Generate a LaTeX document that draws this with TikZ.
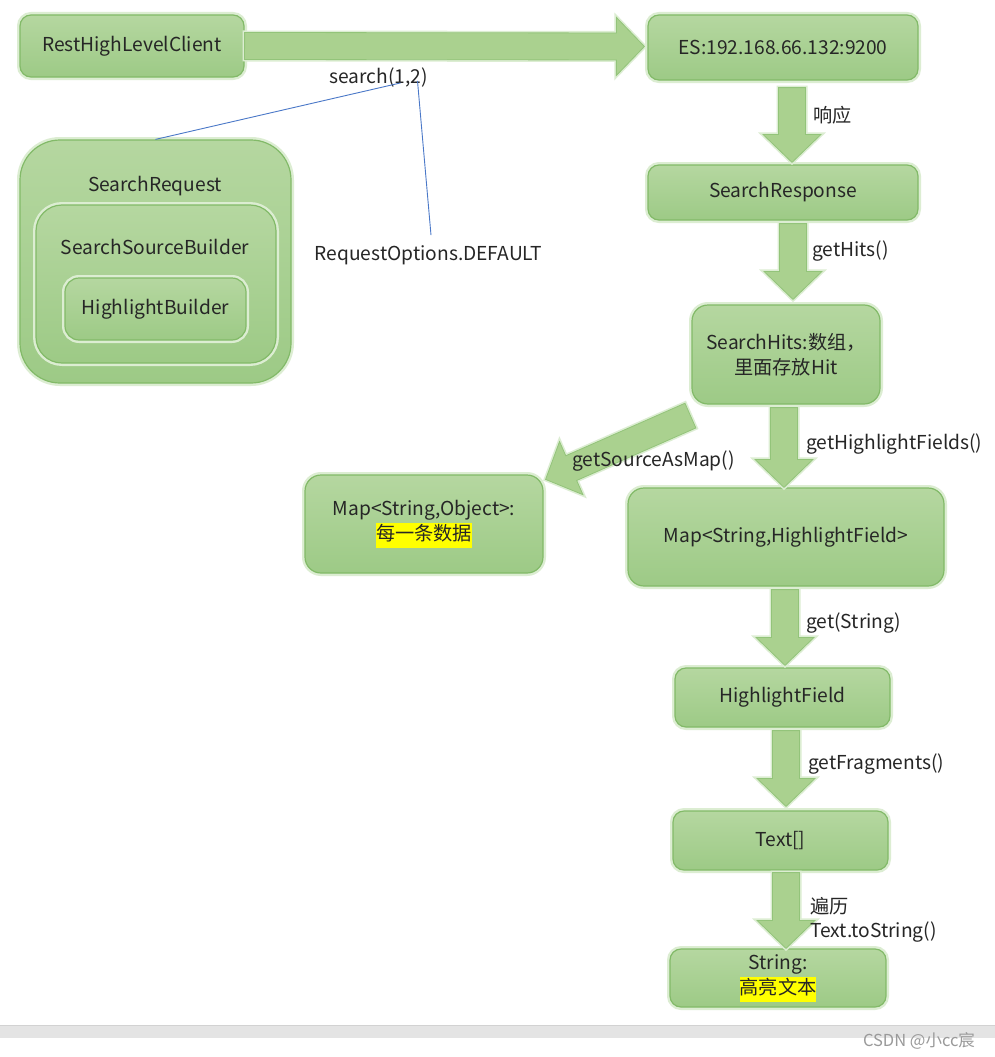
\documentclass[tikz,border=0pt]{standalone}
\usepackage{fontspec}
\setmainfont{Noto Sans CJK SC}
\usetikzlibrary{calc}
\definecolor{boxtop}{HTML}{B5D7A0}
\definecolor{boxbot}{HTML}{9DCA86}
\definecolor{boxline}{HTML}{82BA68}
\definecolor{glowc}{HTML}{DCEDD2}
\definecolor{arrfill}{HTML}{AAD18F}
\definecolor{arrline}{HTML}{93C47A}
\definecolor{txt}{HTML}{262626}
\definecolor{blu}{HTML}{4A78C8}
\definecolor{hlc}{HTML}{FFFF00}
\definecolor{barc}{HTML}{E4E4E4}
\definecolor{barl}{HTML}{D2D2D2}
\definecolor{wmc}{HTML}{9A9A9A}
\newcommand\hlt[1]{{\setlength{\fboxsep}{0pt}\colorbox{hlc}{\strut #1}}}
\newcommand\barrow[2]{%
  \draw[blockarr] let \p1=(#1), \p2=(#2),
     \n1={atan2(\y2-\y1,\x2-\x1)}, \n2={veclen(\x2-\x1,\y2-\y1)} in
     {[shift={(\x1,\y1)}, rotate=\n1]
      (0pt,-13.5pt) -- (\n2-28pt,-13.5pt) -- (\n2-28pt,-29pt) -- (\n2,0pt)
      -- (\n2-28pt,29pt) -- (\n2-28pt,13.5pt) -- (0pt,13.5pt) -- cycle};}
\begin{document}
\begin{tikzpicture}[x=1pt,y=-1pt,
  every node/.style={font=\fontsize{19.2}{25}\selectfont, text=txt, inner sep=0pt},
  box/.style={rounded corners=#1, draw=boxline, line width=1.2pt,
    top color=boxtop, bottom color=boxbot, align=center,
    preaction={draw=glowc, line width=6pt}},
  box/.default=11pt,
  lbl/.style={anchor=west, align=left},
  blockarr/.style={fill=arrfill, draw=arrline, line width=0.8pt, line join=miter,
    preaction={draw=glowc, line width=4pt}},
  blueline/.style={draw=blu, line width=0.9pt}]
\useasboundingbox (0,0) rectangle (995,1057);
\fill[white] (0,0) rectangle (995,1057);

% left nested boxes
\node[box=40pt, minimum width=271pt, minimum height=243pt] (sreq) at (155.5,261.5) {};
\node[box=26pt, minimum width=240pt, minimum height=158pt] (ssb) at (156,284) {};
\node[box=14pt, minimum width=181pt, minimum height=62pt] (hb) at (155.5,309) {HighlightBuilder};
\node (sreqt) at (155,186) {SearchRequest};
\node (ssbt) at (155,247) {SearchSourceBuilder};

% main boxes
\node[box, minimum width=224pt, minimum height=62pt] (rhlc) at (132,46) {RestHighLevelClient};
\node[box, minimum width=270pt, minimum height=65pt] (es) at (783,47.5) {ES:192.168.66.132:9200};
\node[box, minimum width=270pt, minimum height=55pt] (resp) at (783,192.5) {SearchResponse};
\node[box=16pt, minimum width=188pt, minimum height=99pt] (hits) at (786,354.5) {SearchHits:数组，\\里面存放Hit};
\node[box=16pt, minimum width=238pt, minimum height=98pt] (obj) at (424,524) {Map<String,Object>:\\\hlt{每一条数据}};
\node[box=16pt, minimum width=316pt, minimum height=98pt] (hmap) at (786,537) {Map<String,HighlightField>};
\node[box, minimum width=215pt, minimum height=59pt] (hf) at (782.5,697.5) {HighlightField};
\node[box, minimum width=215pt, minimum height=59pt] (txtarr) at (780.5,840.5) {Text[]};
\node[box, minimum width=216pt, minimum height=58pt] (str) at (778,978) {String:\\\hlt{高亮文本}};

% block arrows
\coordinate (a0) at ($(rhlc.east)+(0,0)$);
\coordinate (a1) at ($(es.west)+(-3,-1)$);
\barrow{a0}{a1}
\barrow{$(es.south)+(9,7)$}{$(resp.north)+(9,-2)$}
\barrow{$(resp.south)+(10,3)$}{$(hits.north)+(7,-5)$}
\barrow{$(hits.south)+(-2,3)$}{$(hmap.north)+(-2,0)$}
\barrow{$(hmap.south)+(-1,3)$}{$(hf.north)+(2.5,-2)$}
\barrow{$(hf.south)+(3.5,3)$}{$(txtarr.north)+(5.5,-4)$}
\barrow{$(txtarr.south)+(5.5,2)$}{$(str.north)+(8,0)$}
\barrow{$(hits.south west)+(-1,11)$}{$(obj.north east)+(2,5)$}

% arrow labels
\node[lbl] (l1) at (813,115) {响应};
\node[lbl] (l2) at (812,251) {getHits()};
\node[lbl] (l3) at (806,444) {getHighlightFields()};
\node[lbl] (l4) at (572,461) {getSourceAsMap()};
\node[lbl] (l5) at (806,623) {get(String)};
\node[lbl] (l6) at (808,764) {getFragments()};
\node[lbl] (l7) at (810,906) {遍历};
\node[lbl] (l8) at (810,932) {Text.toString()};

% search labels and blue lines
\node (srch) at (378.5,78) {search(1,2)};
\node (ropt) at (428.5,255) {RequestOptions.DEFAULT};
\draw[blueline] ($(srch.south)+(22,-5)$) -- (sreq.north);
\draw[blueline] ($(srch.south)+(39,-7)$) -- ($(ropt.north)+(2.5,-10)$);

% bottom bar and watermark
\fill[barc] (0,1025) rectangle (995,1038);
\draw[barl, line width=1pt] (0,1025.5) -- (995,1025.5);
\node[text=wmc, font=\fontsize{16.5}{17}\selectfont] (wm) at (919,1041) {CSDN @小cc宸};
\end{tikzpicture}
\end{document}
